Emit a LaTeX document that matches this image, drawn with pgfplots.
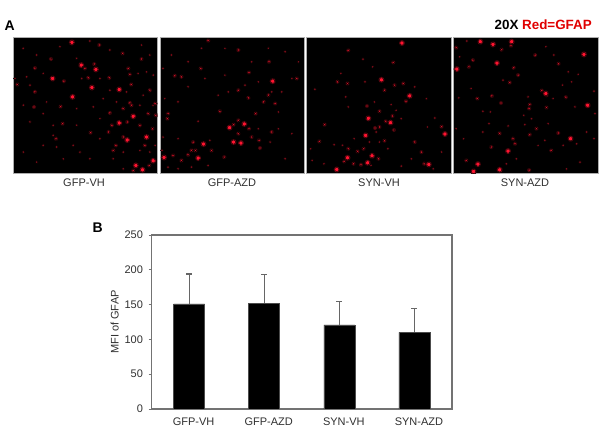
\documentclass[border=0pt]{standalone}
\usepackage{fontspec}
\setmainfont{Liberation Sans}
\usepackage{pgfplots}
\usepackage{pgfplotstable}
\pgfplotsset{compat=1.18}
\definecolor{brt}{HTML}{FF1430}
\definecolor{brh}{HTML}{B00E1E}
\definecolor{mid}{HTML}{D81226}
\definecolor{midh}{HTML}{7A0C16}
\definecolor{dimr}{HTML}{800C18}
\definecolor{txt}{HTML}{303030}
% --- speckle positions (zoomed-crop pixels)
\pgfplotstableread{
x y
430 376
352 314
370 243
246 157
214 90
186 22
128 130
188 185
378 390
398 403
410 305
328 163
258 103
328 263
}\pAb
\pgfplotstableread{
x y
123 72
75 99
152 214
300 233
340 220
364 148
355 100
296 290
225 100
253 87
235 128
162 138
22 148
75 170
72 215
360 203
415 235
428 280
405 330
438 240
340 305
138 310
158 265
242 292
298 128
338 55
268 30
360 118
395 72
420 165
390 270
318 330
310 345
370 405
418 390
352 260
365 210
436 205
306 270
}\pAm
\pgfplotstableread{
x y
40 40
80 60
150 35
240 18
300 45
395 30
420 60
50 125
100 115
15 130
200 70
215 130
270 130
300 165
385 115
410 110
430 120
60 150
110 200
100 235
40 210
200 220
250 215
280 190
320 200
400 180
430 210
390 210
60 260
130 270
200 270
270 250
270 310
210 350
160 370
140 335
100 330
130 300
40 350
80 380
190 330
240 370
310 370
340 350
340 400
390 345
436 330
420 350
350 170
}\pAd
\pgfplotstableread{
x y
214 277
258 266
136 326
18 366
120 368
343 138
248 323
226 320
}\pBb
\pgfplotstableread{
x y
150 17
128 100
70 125
50 122
240 255
226 268
272 280
292 235
316 200
332 80
240 295
280 305
302 315
305 338
340 290
185 228
30 235
28 250
100 345
112 345
90 358
70 375
45 360
105 320
198 365
160 345
350 205
330 180
270 188
240 165
415 130
272 112
240 45
}\pBm
\pgfplotstableread{
x y
40 60
90 80
130 40
200 40
280 80
330 40
380 50
420 80
15 100
90 155
140 130
200 120
260 150
300 140
370 170
340 170
400 130
210 170
60 200
120 258
180 180
20 190
300 280
360 280
400 295
380 370
335 320
155 315
30 395
60 400
100 395
150 390
60 310
15 305
12 345
360 230
}\pBd
\pgfplotstableread{
x y
292 24
203 361
192 249
258 262
420 296
315 182
231 134
184 300
190 382
130 367
98 402
372 387
}\pCb
\pgfplotstableread{
x y
132 46
266 82
100 140
130 145
270 150
296 145
240 165
304 198
188 212
225 228
264 242
244 258
225 275
212 278
268 284
410 274
240 316
178 340
132 340
160 348
46 318
62 268
222 370
148 385
170 388
120 378
358 385
330 320
350 350
}\pCm
\pgfplotstableread{
x y
176 72
205 95
110 115
182 140
33 162
125 185
132 215
210 200
260 208
275 225
290 250
330 155
365 190
390 248
368 275
150 310
195 320
115 330
90 328
20 340
25 375
60 385
290 392
320 370
385 400
410 350
250 340
225 320
200 390
215 290
}\pCd
\pgfplotstableread{
x y
130 28
92 20
186 20
142 84
22 102
175 347
85 386
150 403
72 408
288 175
413 210
362 310
402 58
}\pDb
\pgfplotstableread{
x y
184 32
156 44
20 38
256 60
326 86
192 98
205 120
70 75
58 95
276 166
348 186
240 208
238 220
290 217
154 203
127 182
83 190
150 294
240 298
260 280
325 293
190 310
196 325
125 335
50 375
238 404
304 345
290 180
180 142
}\pDm
\pgfplotstableread{
x y
52 18
288 35
312 60
30 65
355 110
385 118
365 140
338 150
160 135
65 160
28 188
235 185
310 190
375 215
432 168
435 235
100 228
122 230
222 240
245 250
118 265
175 272
225 268
295 265
42 310
20 280
100 290
265 330
285 315
340 330
380 325
432 310
410 290
200 370
170 385
350 400
390 380
}\pDd
% one panel: #1 left, #2 bottom, #3 xmin, #4 xmax, #5 #6 #7 tables
\newcommand{\panel}[7]{%
\begin{axis}[at={(#1pt,#2pt)},anchor=south west,scale only axis,width=144.5pt,height=136.5pt,
 xmin=#3,xmax=#4,ymin=6,ymax=414,y dir=reverse,ticks=none,
 clip marker paths=true,
 axis line style={draw=black!32,line width=0.8pt},
 axis background/.style={fill=black}]
\addplot[only marks,mark=*,mark size=1.5pt,mark options={draw=none,fill=dimr}] table {#7};
\addplot[only marks,mark=*,mark size=2.1pt,mark options={draw=none,fill=midh}] table {#6};
\addplot[only marks,mark=*,mark size=1.4pt,mark options={draw=none,fill=mid}] table {#6};
\addplot[only marks,mark=*,mark size=3pt,mark options={draw=none,fill=brh}] table {#5};
\addplot[only marks,mark=*,mark size=2.1pt,mark options={draw=none,fill=brt}] table {#5};
\end{axis}}
\begin{document}
\begin{tikzpicture}[x=1pt,y=1pt]
\path (0,0) rectangle (600,447);
\panel{13}{273.5}{9}{443}{\pAb}{\pAm}{\pAd}
\panel{160}{273.5}{6}{438}{\pBb}{\pBm}{\pBd}
\panel{306.5}{273.5}{8}{438}{\pCb}{\pCm}{\pCd}
\panel{453.5}{273.5}{12}{444}{\pDb}{\pDm}{\pDd}
\node[font=\bfseries\fontsize{14}{14}\selectfont,anchor=base west,inner sep=0] at (4.5,416) {A};
\node[font=\bfseries\fontsize{13.4}{14}\selectfont,anchor=base east,inner sep=0] at (592,417) {20X \textcolor{red!88!black}{Red=GFAP}};
\foreach \x/\t in {84/GFP-VH,232/GFP-AZD,379/SYN-VH,525/SYN-AZD}
 \node[font=\fontsize{11}{12}\selectfont,text=txt,anchor=base,inner sep=0] at (\x,260) {\t};
\node[font=\bfseries\fontsize{14}{15}\selectfont,anchor=base west,inner sep=0] at (92.5,214) {B};
\begin{axis}[at={(151.5pt,38pt)},anchor=south west,scale only axis,width=300.5pt,height=174pt,
 xmin=-0.5,xmax=3.5,ymin=0,ymax=250,
 ytick={0,50,100,150,200,250},xtick={0,1,2,3},
 xticklabels={GFP-VH,GFP-AZD,SYN-VH,SYN-AZD},
 tick style={draw=black!55,line width=0.9pt},
 xtick style={draw=none},
 ytick pos=left,tick align=outside,major tick length=3pt,
 axis line style={draw=black!55,line width=1.1pt},
 /pgf/number format/assume math mode=true,
 tick label style={text=txt},
 yticklabel style={font=\fontsize{11}{12}\selectfont,xshift=-2pt},
 xticklabel style={font=\fontsize{11}{12}\selectfont,xshift=4.5pt,yshift=-2pt},
 ylabel={MFI of GFAP},
 ylabel style={font=\fontsize{11}{12}\selectfont,text=txt,yshift=-1pt},
 ]
\addplot[ybar,bar width=31pt,bar shift=0pt,fill=black,draw=black!70,
 error bars/.cd,y dir=plus,y explicit,error bar style={draw=black!60,line width=1.1pt},
 error mark options={draw=black!60,line width=1.1pt,mark size=3pt,rotate=90}]
 table[x=x,y=y,y error=e] {
 x y e
 0 151 43
 1 152 41
 2 121 34
 3 110 35
 };
\end{axis}
\end{tikzpicture}
\end{document}
